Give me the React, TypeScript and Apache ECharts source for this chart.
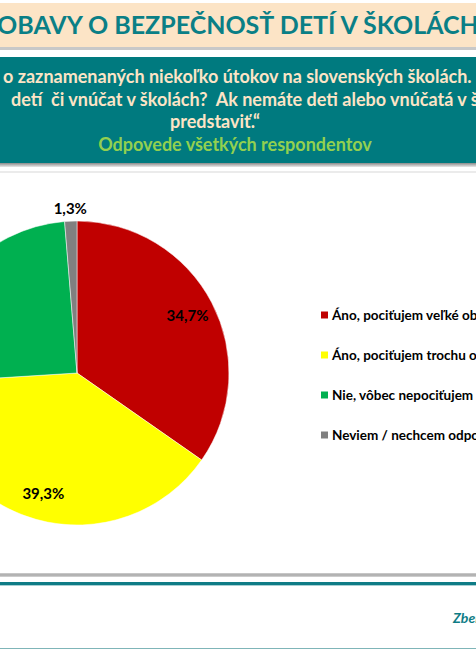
import React, { useEffect, useRef } from "react";
import * as echarts from "echarts";

const categories = [
  "Áno, pociťujem veľké obavy",
  "Áno, pociťujem trochu obavy",
  "Nie, vôbec nepociťujem obavy",
  "Neviem / nechcem odpovedať",
];
const values = [34.7, 39.3, 24.7, 1.3];
const colors = ["#C00000", "#FFFF00", "#00B050", "#808080"];
// which slice labels are visible in the picture
const showLabel = [true, true, false, true];

const titleText = "OBAVY O BEZPEČNOSŤ DETÍ V ŠKOLÁCH";
const bannerLines = [
  "o zaznamenaných niekoľko útokov na slovenských školách.",
  "detí  či vnúčat v školách?  Ak nemáte deti alebo vnúčatá v škole,",
  "predstaviť.“",
];
const subtitleText = "Odpovede všetkých respondentov";
const footerText = "Zber dát";

const fmt = (v: number) => v.toFixed(1).replace(".", ",") + "%";

export default function App() {
  const ref = useRef<HTMLDivElement>(null);
  useEffect(() => {
    document.body.style.margin = "0";
    if (!ref.current) return;
    const chart = echarts.init(ref.current, null, { renderer: "svg" });
    const center = [77, 373];
    const R = 152;
    const labelStyle = {
      fontFamily: "Lato",
      fontWeight: "bold" as const,
      fontSize: 15,
      color: "#000",
    };
    const bannerFont = "bold 18px Lato";
    chart.setOption({
      animation: false,
      backgroundColor: "#fff",
      legend: {
        orient: "vertical",
        left: 319,
        top: 308,
        padding: 0,
        itemWidth: 9,
        itemHeight: 9,
        itemGap: 26,
        icon: "rect",
        selectedMode: false,
        data: categories.map((c, i) => ({ name: c, itemStyle: { color: colors[i] } })),
        textStyle: { fontFamily: "Lato", fontWeight: "bold", fontSize: 13.5, color: "#000", padding: [0, 0, 0, -2] },
      },
      graphic: [
        { type: "rect", shape: { x: 0, y: 3, width: 476, height: 44 }, style: { fill: "#FCE4C6" } },
        { type: "rect", shape: { x: 0, y: 47, width: 476, height: 3 }, style: { fill: "#C8C8C8" } },
        {
          type: "text",
          x: -3,
          y: 24,
          style: {
            text: titleText,
            font: "bold 25px Lato",
            fill: "#0A7F86",
            textAlign: "left",
            textVerticalAlign: "middle",
          },
        },
        { type: "rect", shape: { x: 0, y: 57, width: 476, height: 106 }, style: { fill: "#007A7F" } },
        {
          type: "rect",
          shape: { x: 0, y: 163, width: 476, height: 4 },
          style: {
            fill: new echarts.graphic.LinearGradient(0, 0, 0, 1, [
              { offset: 0, color: "#8A8A8A" },
              { offset: 1, color: "#E8E8E8" },
            ]),
          },
        },
        { type: "rect", shape: { x: 0, y: 171, width: 476, height: 2 }, style: { fill: "#EBEBEB" } },
        {
          type: "text",
          x: 3,
          y: 76,
          style: { text: bannerLines[0], font: bannerFont, fill: "#FCE4C6", textVerticalAlign: "middle" },
        },
        {
          type: "text",
          x: 11,
          y: 98.5,
          style: { text: bannerLines[1], font: bannerFont, fill: "#FCE4C6", textVerticalAlign: "middle" },
        },
        {
          type: "text",
          x: 215,
          y: 121,
          style: {
            text: bannerLines[2],
            font: bannerFont,
            fill: "#FCE4C6",
            textAlign: "center",
            textVerticalAlign: "middle",
          },
        },
        {
          type: "text",
          x: 235,
          y: 143.5,
          style: {
            text: subtitleText,
            font: bannerFont,
            fill: "#92D050",
            textAlign: "center",
            textVerticalAlign: "middle",
          },
        },
        {
          type: "rect",
          shape: { x: 0, y: 573, width: 476, height: 4 },
          style: {
            fill: new echarts.graphic.LinearGradient(0, 0, 0, 1, [
              { offset: 0, color: "#D0D0D0" },
              { offset: 0.5, color: "#A8A8A8" },
              { offset: 1, color: "#D8D8D8" },
            ]),
          },
        },
        { type: "rect", shape: { x: 0, y: 582, width: 476, height: 3 }, style: { fill: "#0E7C86" } },
        { type: "rect", shape: { x: 0, y: 585, width: 476, height: 1 }, style: { fill: "#A8D0D4" } },
        {
          type: "text",
          x: 453,
          y: 617,
          style: {
            text: footerText,
            font: "italic bold 14px Lato",
            fill: "#0E7C86",
            textVerticalAlign: "middle",
          },
        },
        { type: "rect", shape: { x: 0, y: 648, width: 476, height: 1 }, style: { fill: "#7FB5B8" } },
      ],
      series: [
        {
          type: "pie",
          center,
          radius: [0, R],
          startAngle: 90,
          clockwise: true,
          silent: true,
          label: { show: false },
          labelLine: { show: false },
          itemStyle: { borderColor: "#fff", borderWidth: 0.5 },
          data: categories.map((c, i) => ({ name: c, value: values[i], itemStyle: { color: colors[i] } })),
        },
        {
          type: "pie",
          center,
          radius: [0, R * 1.6],
          startAngle: 90,
          clockwise: true,
          silent: true,
          z: 5,
          itemStyle: { color: "transparent" },
          labelLine: { show: false },
          data: categories.map((c, i) => ({
            name: c,
            value: values[i],
            label: {
              show: showLabel[i] && i < 3,
              position: "inside",
              formatter: () => fmt(values[i]),
              ...labelStyle,
            },
          })),
        },
        {
          type: "pie",
          center,
          radius: [0, R * 2.13],
          startAngle: 90,
          clockwise: true,
          silent: true,
          z: 5,
          itemStyle: { color: "transparent" },
          labelLine: { show: false },
          data: categories.map((c, i) => ({
            name: c,
            value: values[i],
            label: {
              show: showLabel[i] && i === 3,
              position: "inside",
              formatter: () => fmt(values[i]),
              ...labelStyle,
            },
          })),
        },
      ],
    });
    return () => chart.dispose();
  }, []);
  return (
    <div
      ref={ref}
      style={{ position: "absolute", left: 0, top: 0, width: 476, height: 650 }}
    />
  );
}
